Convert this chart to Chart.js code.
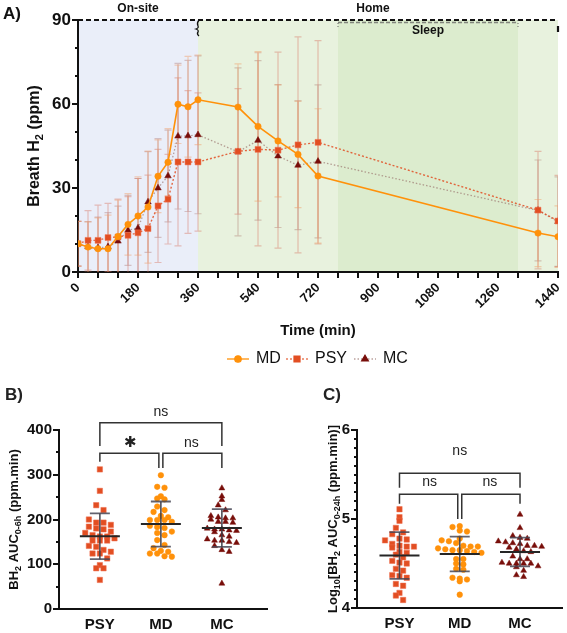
<!DOCTYPE html>
<html>
<head>
<meta charset="utf-8">
<script src="https://cdn.jsdelivr.net/npm/chart.js@4.4.1/dist/chart.umd.min.js"></script>
<style>
  body { margin: 0; background: #fff; }
  #wrap { position: relative; width: 567px; height: 633px; }
  canvas { position: absolute; }
</style>
</head>
<body>
<div id="wrap">
  <canvas id="chartA" width="567" height="372" style="left:0;top:0"></canvas>
  <canvas id="chartB" width="285" height="253" style="left:0;top:380px"></canvas>
  <canvas id="chartC" width="249" height="253" style="left:318px;top:380px"></canvas>
</div>
<script>
// ---- panel A: breath H2 over time (mean and SD) ----
const timeMin = [0, 30, 60, 90, 120, 150, 180, 210, 240, 270, 300, 330, 360, 480, 540, 600, 660, 720, 1380, 1440];
const mdMean  = [10.1, 8.9, 8.3, 8.3, 12.7, 17.0, 20.0, 23.2, 34.2, 39.2, 59.9, 59.0, 61.5, 58.9, 52.0, 46.8, 42.0, 34.3, 13.9, 12.6];
const mdSD    = [8, 9, 11, 12, 13, 11, 14, 20, 13, 12, 14, 18, 16, 15.4, 26.7, 20, 19, 24, 12, 11];
const psyMean = [10.1, 11.3, 11.3, 12.3, 12.5, 13.1, 14.0, 15.5, 23.6, 26.0, 39.3, 39.3, 39.3, 43.1, 43.8, 43.5, 45.4, 46.3, 22.1, 18.2];
const psySD   = [8, 10.6, 12.6, 12.2, 13.5, 13.8, 19.4, 19.1, 20.2, 16, 30, 25.5, 24.7, 22.4, 34.5, 35, 38.6, 36.3, 21, 16.3];
const mcMean  = [10.1, 9.0, 8.6, 9.0, 11.0, 14.9, 15.7, 25.0, 30.0, 34.3, 48.5, 48.6, 49.0, 42.9, 47.0, 41.4, 38.1, 39.5, 22.0, 18.0];
const mcSD    = [8, 9, 11, 12.2, 12.5, 12.5, 17.7, 18, 17.6, 16.4, 26, 27, 28.2, 30, 28.5, 25.5, 23, 27.3, 18, 16];

// phases (min)
const onSite = [0, 360];
const home = [360, 1440];
const sleep = [780, 1320];

// ---- panels B and C: individual AUCs ----
const groupNames = ['PSY', 'MD', 'MC'];
const psyAuc6 = [312, 264, 232, 221, 200, 193, 193, 188, 184, 180, 178, 173, 170, 165, 162, 162, 158, 153, 153, 153, 141, 139, 132, 128, 124, 124, 113, 98, 91, 91, 65];
const mdAuc6  = [299, 273, 271, 252, 247, 245, 229, 221, 217, 208, 205, 199, 199, 199, 195, 186, 183, 181, 173, 170, 165, 154, 143, 136, 130, 128, 124, 124, 118, 117];
const mcAuc6  = [270, 252, 244, 232, 221, 208, 205, 203, 203, 200, 195, 195, 193, 180, 178, 178, 176, 175, 172, 165, 162, 156, 153, 153, 150, 148, 141, 132, 128, 57];
const psyAuc24 = [5.11, 5.02, 4.98, 4.90, 4.85, 4.83, 4.78, 4.77, 4.76, 4.72, 4.70, 4.69, 4.69, 4.68, 4.63, 4.62, 4.60, 4.57, 4.53, 4.51, 4.50, 4.44, 4.42, 4.37, 4.36, 4.34, 4.27, 4.25, 4.17, 4.14, 4.09];
const mdAuc24  = [4.92, 4.91, 4.87, 4.86, 4.78, 4.76, 4.75, 4.73, 4.70, 4.69, 4.69, 4.67, 4.66, 4.65, 4.65, 4.64, 4.63, 4.62, 4.55, 4.55, 4.50, 4.49, 4.44, 4.43, 4.34, 4.33, 4.32, 4.30, 4.15];
const mcAuc24  = [5.05, 4.90, 4.81, 4.79, 4.78, 4.75, 4.74, 4.73, 4.72, 4.70, 4.70, 4.69, 4.68, 4.66, 4.64, 4.63, 4.58, 4.55, 4.55, 4.51, 4.50, 4.50, 4.50, 4.50, 4.47, 4.46, 4.42, 4.37, 4.35];

const FONT = '"Liberation Sans", Arial, sans-serif';
Chart.defaults.font.family = FONT;
Chart.defaults.color = '#111';

const C_MD = 'rgb(255,145,10)';
const C_PSY = 'rgb(226,78,34)';
const C_MC = 'rgb(120,14,10)';

const mean = a => a.reduce((s, v) => s + v, 0) / a.length;
const sdev = a => { const m = mean(a); return Math.sqrt(a.reduce((s, v) => s + (v - m) ** 2, 0) / (a.length - 1)); };

// spread points of similar value sideways, like a dot plot
function swarm(values, bin, dx) {
  const rows = {};
  values.forEach((v, i) => { const k = Math.round(v / bin); (rows[k] = rows[k] || []).push(i); });
  const off = new Array(values.length).fill(0);
  Object.values(rows).forEach(idx => idx.forEach((j, n) => { off[j] = (n - (idx.length - 1) / 2) * dx; }));
  return off;
}

function richText(ctx, parts, cx, cy, size, rotate) {
  ctx.save();
  ctx.translate(cx, cy);
  if (rotate) ctx.rotate(-Math.PI / 2);
  const fontFor = sub => 'bold ' + (sub ? Math.round(size * 0.68) : size) + 'px ' + FONT;
  let w = 0;
  parts.forEach(([t, sub]) => { ctx.font = fontFor(sub); w += ctx.measureText(t).width; });
  let x = -w / 2;
  ctx.textBaseline = 'middle';
  ctx.textAlign = 'left';
  ctx.fillStyle = '#111';
  parts.forEach(([t, sub]) => { ctx.font = fontFor(sub); ctx.fillText(t, x, sub ? size * 0.32 : 0); x += ctx.measureText(t).width; });
  ctx.restore();
}

function drawTicksY(ctx, scale, step, len, left) {
  ctx.save();
  ctx.strokeStyle = '#111';
  ctx.lineWidth = 2;
  for (let v = scale.min; v <= scale.max + 1e-9; v += step) {
    const py = Math.round(scale.getPixelForValue(v));
    ctx.beginPath(); ctx.moveTo(left - len, py); ctx.lineTo(left, py); ctx.stroke();
  }
  ctx.restore();
}

// ---------- chart A ----------
const panelA = {
  id: 'panelA',
  beforeDraw(chart) {
    const { ctx, chartArea: a, scales: { x } } = chart;
    const band = (r, col) => {
      const x0 = x.getPixelForValue(r[0]), x1 = x.getPixelForValue(r[1]);
      ctx.fillStyle = col; ctx.fillRect(x0, a.top, x1 - x0, a.bottom - a.top);
    };
    ctx.save();
    band(onSite, 'rgb(234,238,249)');
    band(home, 'rgb(232,242,222)');
    band(sleep, 'rgb(220,236,206)');
    ctx.restore();
  },
  beforeDatasetsDraw(chart) {
    const { ctx, chartArea: a, scales: { x, y } } = chart;
    ctx.save();
    ctx.beginPath(); ctx.rect(a.left, a.top - 2, a.width, a.height + 2); ctx.clip();
    chart.data.datasets.slice().reverse().forEach(ds => {
      ctx.strokeStyle = ds.barColor;
      ctx.lineWidth = 1.2;
      ds.data.forEach((p, i) => {
        const px = x.getPixelForValue(p.x);
        const hi = y.getPixelForValue(p.y + ds.sd[i]);
        const lo = y.getPixelForValue(p.y - ds.sd[i]);
        ctx.beginPath();
        ctx.moveTo(px, hi); ctx.lineTo(px, lo);
        ctx.moveTo(px - 3.5, hi); ctx.lineTo(px + 3.5, hi);
        ctx.moveTo(px - 3.5, lo); ctx.lineTo(px + 3.5, lo);
        ctx.stroke();
      });
    });
    ctx.restore();
  },
  afterDraw(chart) {
    const { ctx, chartArea: a, scales: { x, y } } = chart;
    ctx.save();
    // x ticks every 60 min
    ctx.strokeStyle = '#111'; ctx.lineWidth = 2;
    for (let t = 0; t <= 1440; t += 60) {
      const px = x.getPixelForValue(t);
      ctx.beginPath(); ctx.moveTo(px, a.bottom); ctx.lineTo(px, a.bottom + 6); ctx.stroke();
    }
    ctx.restore();
    drawTicksY(ctx, y, 10, 3, a.left);
    drawTicksY(ctx, y, 30, 6, a.left);

    // phase brackets along the top
    ctx.save();
    ctx.strokeStyle = '#111'; ctx.lineWidth = 2.2; ctx.setLineDash([5, 3]);
    ctx.beginPath(); ctx.moveTo(a.left, a.top); ctx.lineTo(a.right, a.top); ctx.stroke();
    ctx.strokeStyle = 'rgba(90,90,90,0.7)'; ctx.lineWidth = 1.3; ctx.setLineDash([4, 2]);
    const s0 = x.getPixelForValue(sleep[0]), s1 = x.getPixelForValue(sleep[1]);
    ctx.beginPath(); ctx.moveTo(s0, a.top + 2.5); ctx.lineTo(s1, a.top + 2.5); ctx.stroke();
    ctx.setLineDash([1, 2]);
    [s0, s1].forEach(px => { ctx.beginPath(); ctx.moveTo(px, a.top); ctx.lineTo(px, a.top + 8); ctx.stroke(); });
    ctx.setLineDash([]);
    // brace at end of on-site
    const bx = x.getPixelForValue(onSite[1]);
    ctx.strokeStyle = '#111'; ctx.lineWidth = 1.3;
    ctx.beginPath();
    ctx.moveTo(bx + 1, a.top);
    ctx.quadraticCurveTo(bx - 1.5, a.top + 3, bx, a.top + 6);
    ctx.quadraticCurveTo(bx + 1, a.top + 8, bx - 2, a.top + 9);
    ctx.quadraticCurveTo(bx + 1, a.top + 10, bx, a.top + 12);
    ctx.quadraticCurveTo(bx - 1.5, a.top + 14, bx + 1, a.top + 16);
    ctx.stroke();
    ctx.lineWidth = 2.2;
    ctx.beginPath(); ctx.moveTo(a.right, a.top + 6); ctx.lineTo(a.right, a.top + 12); ctx.stroke();

    ctx.fillStyle = '#111';
    ctx.textAlign = 'center'; ctx.textBaseline = 'middle';
    ctx.font = 'bold 12px ' + FONT;
    ctx.fillText('On-site', x.getPixelForValue((onSite[0] + onSite[1]) / 2), 9);
    ctx.fillText('Home', x.getPixelForValue((home[0] + home[1]) / 2) - 5, 9);
    ctx.fillText('Sleep', x.getPixelForValue((sleep[0] + sleep[1]) / 2), a.top + 11);
    ctx.textAlign = 'left';
    ctx.font = 'bold 17px ' + FONT;
    ctx.fillText('A)', 3, 14);
    ctx.restore();

    richText(ctx, [['Breath H', 0], ['2', 1], [' (ppm)', 0]], 35, (a.top + a.bottom) / 2, 16, true);

    // legend
    const legendX = [238, 297, 365];
    const ly = 359;
    ctx.save();
    chart.data.datasets.forEach((ds, i) => {
      const cx = legendX[i];
      ctx.strokeStyle = ds.borderColor; ctx.lineWidth = 1.3;
      ctx.setLineDash(ds.borderDash || []);
      ctx.beginPath(); ctx.moveTo(cx - 11, ly); ctx.lineTo(cx + 11, ly); ctx.stroke();
      ctx.setLineDash([]);
      ctx.fillStyle = ds.pointBackgroundColor;
      ctx.strokeStyle = ds.pointBackgroundColor;
      Chart.helpers.drawPoint(ctx, { pointStyle: ds.pointStyle, radius: ds.pointRadius, borderWidth: 0.5, rotation: 0 }, cx, ly);
      ctx.fillStyle = '#111';
      ctx.font = '16px ' + FONT;
      ctx.textAlign = 'left'; ctx.textBaseline = 'middle';
      ctx.fillText(ds.label, cx + 18, ly);
    });
    ctx.restore();
  }
};

const toXY = vals => timeMin.map((t, i) => ({ x: t, y: vals[i] }));

new Chart(document.getElementById('chartA'), {
  type: 'scatter',
  data: {
    datasets: [
      { label: 'MD', data: toXY(mdMean), sd: mdSD, showLine: true, borderColor: C_MD, borderWidth: 1.6,
        pointStyle: 'circle', pointRadius: 3.2, pointBackgroundColor: C_MD, pointBorderColor: C_MD, pointBorderWidth: 0.5,
        barColor: 'rgba(240,150,90,0.42)' },
      { label: 'PSY', data: toXY(psyMean), sd: psySD, showLine: true, borderColor: 'rgba(226,78,34,0.85)', borderWidth: 1.4, borderDash: [2, 2],
        pointStyle: 'rect', pointRadius: 4.2, pointBackgroundColor: C_PSY, pointBorderColor: 'rgb(240,120,90)', pointBorderWidth: 0.5,
        barColor: 'rgba(215,115,95,0.42)' },
      { label: 'MC', data: toXY(mcMean), sd: mcSD, showLine: true, borderColor: 'rgba(150,110,105,0.65)', borderWidth: 1.3, borderDash: [1.5, 2],
        pointStyle: 'triangle', pointRadius: 3.8, pointBackgroundColor: C_MC, pointBorderColor: C_MC, pointBorderWidth: 0.5,
        barColor: 'rgba(160,90,80,0.32)' }
    ]
  },
  options: {
    responsive: false,
    animation: false,
    events: [],
    layout: { padding: { left: 0, right: 9, top: 20, bottom: 32 } },
    plugins: { legend: { display: false }, tooltip: { enabled: false } },
    scales: {
      x: {
        type: 'linear', min: 0, max: 1440,
        grid: { display: false, drawTicks: false },
        border: { display: true, color: '#111', width: 2 },
        ticks: { stepSize: 180, minRotation: 45, maxRotation: 45, padding: 8, autoSkip: false,
                 font: { size: 13, weight: 'bold' }, color: '#111', callback: v => String(v) },
        title: { display: true, text: 'Time (min)', font: { size: 15, weight: 'bold' }, color: '#111', padding: { top: 0, bottom: 0 } },
        afterFit: s => { s.height = 68; s.paddingLeft = 0; s.paddingRight = 0; }
      },
      y: {
        min: 0, max: 90,
        grid: { display: false, drawTicks: false },
        border: { display: true, color: '#111', width: 2 },
        ticks: { stepSize: 30, padding: 7, font: { size: 17, weight: 'bold' }, color: '#111' },
        afterFit: s => { s.width = 78; s.paddingTop = 0; s.paddingBottom = 0; }
      }
    }
  },
  plugins: [panelA]
});

// ---------- charts B and C ----------
function dotPlot(canvasId, groups, opts) {
  const bin = opts.bin, dx = 0.12;
  const styles = [
    { pointStyle: 'rect', radius: 3.8, color: C_PSY, border: 'rgb(238,110,80)' },
    { pointStyle: 'circle', radius: 2.8, color: C_MD, border: C_MD },
    { pointStyle: 'triangle', radius: 3.4, color: C_MC, border: C_MC }
  ];
  const datasets = groups.map((vals, g) => {
    const off = swarm(vals, bin, dx);
    return {
      label: groupNames[g],
      data: vals.map((v, i) => ({ x: g + off[i], y: v })),
      pointStyle: styles[g].pointStyle, pointRadius: styles[g].radius,
      pointBackgroundColor: styles[g].color, pointBorderColor: styles[g].border, pointBorderWidth: 0.5
    };
  });

  const stats = {
    id: 'stats',
    afterDatasetsDraw(chart) {
      const { ctx, scales: { x, y } } = chart;
      ctx.save();
      groups.forEach((vals, g) => {
        const m = mean(vals), s = sdev(vals);
        const cx = x.getPixelForValue(g);
        const pm = y.getPixelForValue(m), ph = y.getPixelForValue(m + s), pl = y.getPixelForValue(m - s);
        ctx.strokeStyle = 'rgba(60,60,70,0.9)'; ctx.lineWidth = 1.6;
        ctx.beginPath(); ctx.moveTo(cx, ph); ctx.lineTo(cx, pl); ctx.stroke();
        ctx.strokeStyle = 'rgba(70,70,85,0.85)'; ctx.lineWidth = 1.8;
        ctx.beginPath();
        ctx.moveTo(cx - 10, ph); ctx.lineTo(cx + 10, ph);
        ctx.moveTo(cx - 10, pl); ctx.lineTo(cx + 10, pl);
        ctx.stroke();
        ctx.strokeStyle = '#262626'; ctx.lineWidth = 2;
        ctx.beginPath(); ctx.moveTo(cx - 20, pm); ctx.lineTo(cx + 20, pm); ctx.stroke();
      });
      ctx.restore();
    },
    afterDraw(chart) {
      const { ctx, chartArea: a, scales: { x, y } } = chart;
      drawTicksY(ctx, y, opts.minorStep, 3, a.left);
      drawTicksY(ctx, y, opts.majorStep, 6, a.left);
      const bk = opts.brackets;
      const px = g => x.getPixelForValue(g);
      const py = v => y.getPixelForValue(v);
      ctx.save();
      ctx.strokeStyle = '#333'; ctx.lineWidth = 1.5;
      ctx.beginPath();
      // top bracket PSY-MC
      ctx.moveTo(px(0), py(bk.topLeg)); ctx.lineTo(px(0), py(bk.top)); ctx.lineTo(px(2), py(bk.top)); ctx.lineTo(px(2), py(bk.topLeg));
      // PSY-MD
      ctx.moveTo(px(0), py(bk.sideLeg)); ctx.lineTo(px(0), py(bk.low)); ctx.lineTo(px(1) - 2, py(bk.low)); ctx.lineTo(px(1) - 2, py(bk.midLeg));
      // MD-MC
      ctx.moveTo(px(1) + 2, py(bk.midLeg)); ctx.lineTo(px(1) + 2, py(bk.low)); ctx.lineTo(px(2), py(bk.low)); ctx.lineTo(px(2), py(bk.mcLeg));
      ctx.stroke();
      ctx.fillStyle = '#222'; ctx.textAlign = 'center'; ctx.textBaseline = 'middle';
      ctx.font = '14px ' + FONT;
      ctx.fillText(bk.labels[0], px(1), py(bk.topText));
      ctx.fillText(bk.labels[2], (px(1) + px(2)) / 2, py(bk.lowText));
      if (bk.labels[1] === '*') {
        ctx.font = 'bold 15px "DejaVu Sans", sans-serif';
        ctx.fillText('\u2731', (px(0) + px(1)) / 2, py(bk.lowText));
      } else {
        ctx.fillText(bk.labels[1], (px(0) + px(1)) / 2, py(bk.lowText));
      }
      ctx.font = 'bold 17px ' + FONT;
      ctx.textAlign = 'left';
      ctx.fillText(opts.panel, opts.panelX, 15);
      ctx.restore();
      richText(ctx, opts.yTitle, opts.titleX, (a.top + a.bottom) / 2, 13, true);
    }
  };

  new Chart(document.getElementById(canvasId), {
    type: 'scatter',
    data: { datasets },
    options: {
      responsive: false,
      animation: false,
      events: [],
      layout: { padding: { left: 0, right: opts.padRight, top: 50, bottom: 0 } },
      plugins: { legend: { display: false }, tooltip: { enabled: false } },
      scales: {
        x: {
          type: 'linear', min: opts.xMin, max: opts.xMax,
          grid: { display: false, drawTicks: false },
          border: { display: true, color: '#111', width: 2 },
          afterBuildTicks: s => { s.ticks = groupNames.map((n, i) => ({ value: i })); },
          ticks: { padding: 7, font: { size: 15, weight: 'bold' }, color: '#111', callback: v => groupNames[v] },
          afterFit: s => { s.height = opts.xHeight; s.paddingLeft = 0; s.paddingRight = 0; }
        },
        y: {
          min: opts.yMin, max: opts.yMax,
          grid: { display: false, drawTicks: false },
          border: { display: true, color: '#111', width: 2 },
          ticks: { stepSize: opts.majorStep, padding: 7, font: { size: 15, weight: 'bold' }, color: '#111' },
          afterFit: s => { s.width = opts.yWidth; s.paddingTop = 0; s.paddingBottom = 0; }
        }
      }
    },
    plugins: [stats]
  });
}

dotPlot('chartB', [psyAuc6, mdAuc6, mcAuc6], {
  bin: 15, yMin: 0, yMax: 400, majorStep: 100, minorStep: 50,
  xMin: -0.67, xMax: 2.74, yWidth: 59, xHeight: 24, padRight: 18,
  panel: 'B)', panelX: 5, titleX: 14,
  yTitle: [['BH', 0], ['2', 1], [' AUC', 0], ['0-6h', 1], [' (ppm.min)', 0]],
  brackets: { top: 416, topLeg: 364, low: 348, sideLeg: 329, midLeg: 315, mcLeg: 315,
              topText: 441, lowText: 371, labels: ['ns', '*', 'ns'] }
});

dotPlot('chartC', [psyAuc24, mdAuc24, mcAuc24], {
  bin: 0.075, yMin: 4, yMax: 6, majorStep: 1, minorStep: 0.1,
  xMin: -0.705, xMax: 2.705, yWidth: 39, xHeight: 25, padRight: 2,
  panel: 'C)', panelX: 5, titleX: 15,
  yTitle: [['Log', 0], ['10', 1], ['[BH', 0], ['2', 1], [' AUC', 0], ['0-24h', 1], [' (ppm.min)]', 0]],
  brackets: { top: 5.513, topLeg: 5.352, low: 5.278, sideLeg: 5.17, midLeg: 5.0, mcLeg: 5.17,
              topText: 5.76, lowText: 5.41, labels: ['ns', 'ns', 'ns'] }
});
</script>
</body>
</html>
